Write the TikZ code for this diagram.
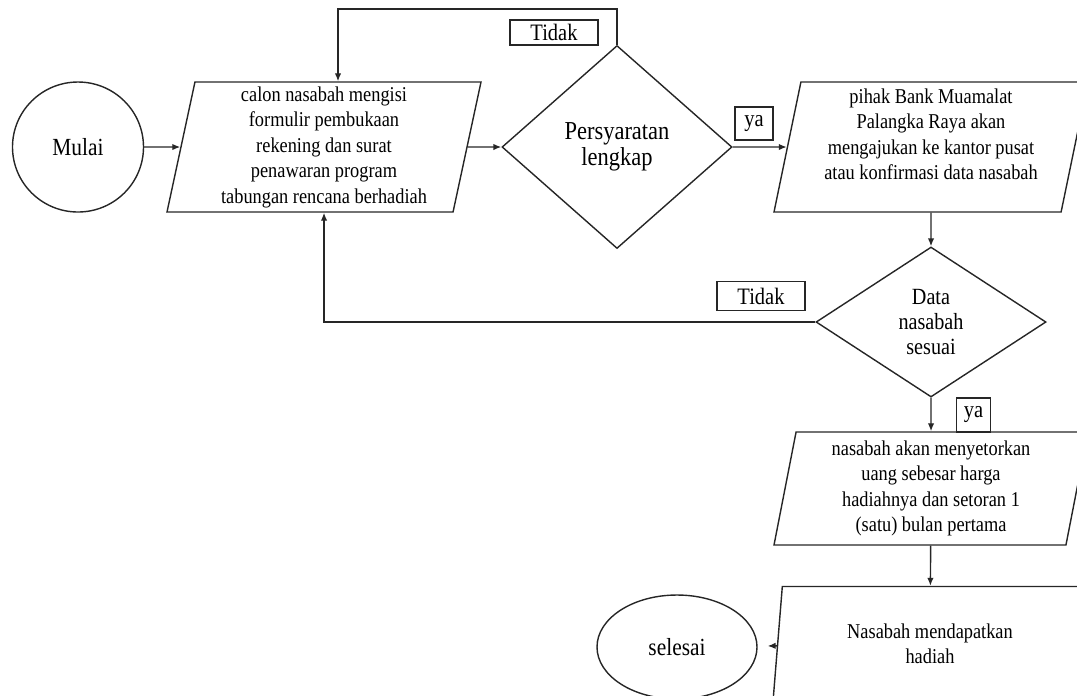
\documentclass[tikz,border=0pt]{standalone}
\usepackage{fontspec}
\setmainfont[FakeStretch=0.87]{Liberation Serif}
\usetikzlibrary{shapes.geometric, arrows.meta, positioning}
\tikzset{
  % jajar genjang (input / proses)
  io/.style={trapezium, trapezium left angle=77, trapezium right angle=103,
    trapezium stretches body, draw=black!85, line width=0.8pt, align=center,
    minimum width=6.28cm, minimum height=2.6cm, inner sep=0pt,
    font=\fontsize{12}{14.5}\selectfont},
  % belah ketupat (keputusan)
  dec/.style={diamond, draw=black!85, line width=0.8pt, align=center,
    inner sep=0pt, minimum width=4.6cm, font=\fontsize{13.2}{14.5}\selectfont},
  % mulai / selesai
  term/.style={ellipse, draw=black!85, line width=0.8pt, inner sep=0pt,
    font=\fontsize{14}{16}\selectfont},
  % kotak kecil ya / tidak
  tag/.style={draw=black!85, line width=0.7pt, inner sep=0pt,
    font=\fontsize{13.4}{15}\selectfont},
  % panah alur
  alur/.style={-{Latex[length=1.6mm, width=1.3mm]}, line width=0.8pt, black!85},
}
\begin{document}
\begin{tikzpicture}
  \useasboundingbox (0,0) rectangle (21.54,-13.9);
  \clip (0,0) rectangle (21.54,-13.9);
  \node[term, minimum width=2.62cm, minimum height=2.6cm] (mulai) at (1.56,-2.94) {Mulai};
  \node[io] (isi) at (6.48,-2.94) {calon nasabah mengisi\\formulir pembukaan\\rekening dan surat\\penawaran program\\tabungan rencana berhadiah};
  \node[dec, minimum height=4.06cm, font=\fontsize{14.7}{14.6}\selectfont] (syarat) at (12.34,-2.94) {Persyaratan\\lengkap};
  \node[io] (bank) at (18.62,-2.94) {pihak Bank Muamalat\\Palangka Raya akan\\mengajukan ke kantor pusat\\atau konfirmasi data nasabah\\ \mbox{}};
  \node[dec, aspect=1.5, minimum height=3.0cm] (cek) at (18.62,-6.44) {Data\\nasabah\\sesuai};
  \node[io, minimum height=2.26cm] (setor) at (18.62,-9.77) {nasabah akan menyetorkan\\uang sebesar harga\\hadiahnya dan setoran 1\\(satu) bulan pertama};
  \node[io, minimum height=2.3cm] (hadiah) at (18.6,-12.88) {Nasabah mendapatkan\\hadiah};
  \node[term, minimum width=3.2cm, minimum height=2.08cm] (selesai) at (13.54,-12.94) {selesai};
  \coordinate (putar) at (6.76,-0.18);
  \node[tag, minimum width=1.76cm, minimum height=0.5cm] (tidak1) at (11.08,-0.65) {Tidak};
  \node[tag, minimum width=0.76cm, minimum height=0.66cm] (ya1) at (15.08,-2.47) {ya};
  \node[tag, minimum width=1.76cm, minimum height=0.58cm] (tidak2) at (15.22,-5.92) {Tidak};
  \node[tag, minimum width=0.68cm, minimum height=0.68cm] (ya2) at (19.47,-8.3) {ya};
  \draw[alur] (mulai) -- (isi);
  \draw[alur] (isi) -- (syarat);
  \draw[alur] (syarat) -- (bank);
  \draw[alur] (syarat.north) |- (putar) -- (putar |- isi.north);
  \draw[alur] (bank) -- (cek);
  \draw[alur] (cek.west) -| (isi.south);
  \draw[alur] (cek) -- (setor);
  \draw[alur] (setor) -- (hadiah);
  \draw[alur, shorten >=0.2cm] (hadiah) -- (selesai);
\end{tikzpicture}
\end{document}
